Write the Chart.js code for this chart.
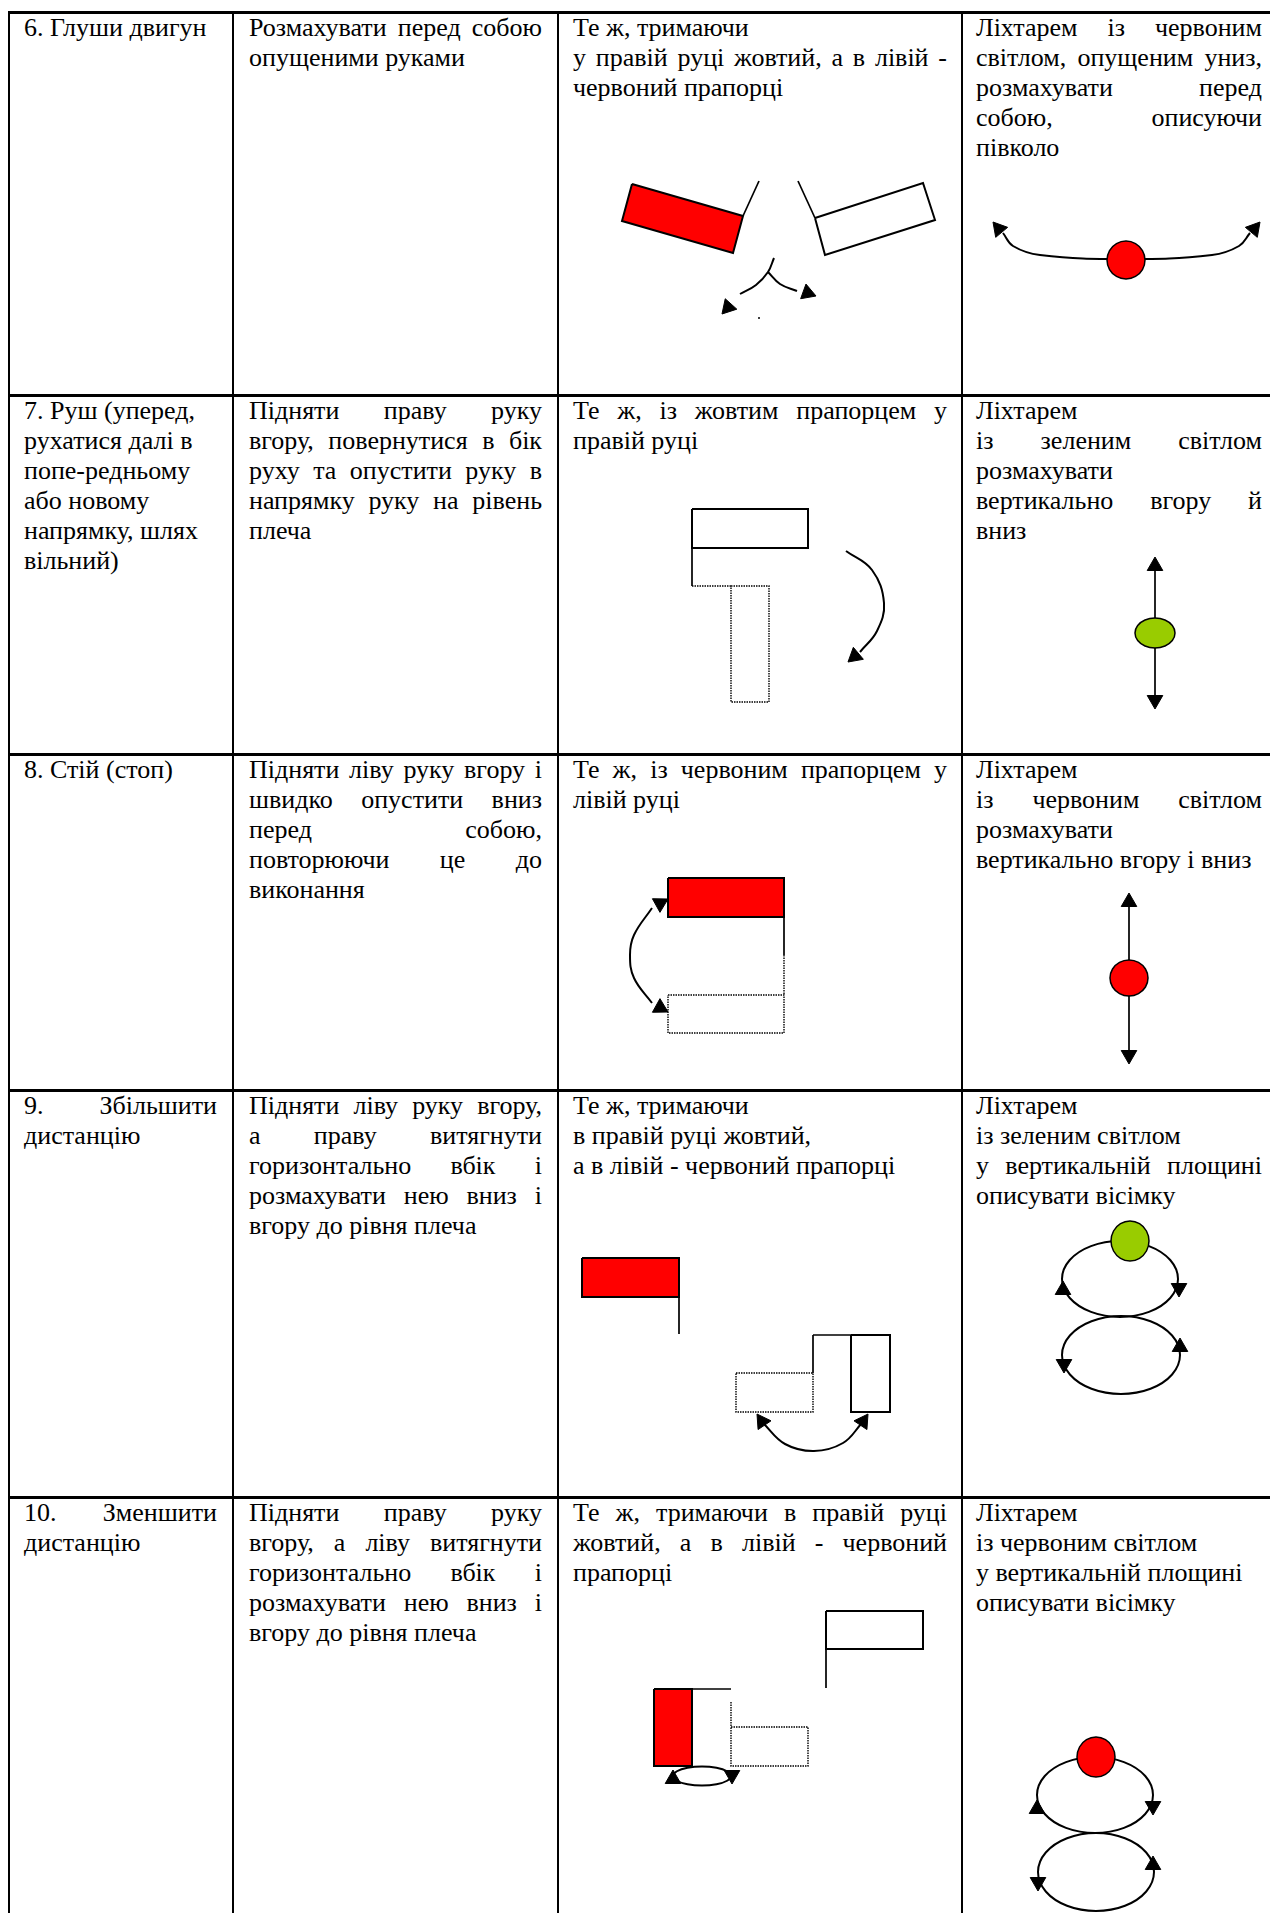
<!DOCTYPE html>
<html lang="uk">
<head>
<meta charset="utf-8">
<title>Сигнали регулювальника</title>
<script src="https://cdn.jsdelivr.net/npm/chart.js@4.4.1/dist/chart.umd.min.js"></script>
<style>
  html, body { margin: 0; padding: 0; background: #fff; }
  #page {
    position: relative; width: 1270px; height: 1913px; overflow: hidden;
    font-family: 'Liberation Serif', 'Times New Roman', serif;
    font-size: 26px; line-height: 30px; color: #000;
  }
  .rule { position: absolute; background: #000; }
  .cell { position: absolute; }
  .cell div { white-space: nowrap; }
  .cell div.j { white-space: normal; text-align: justify; text-align-last: justify; }
  #sketch { position: absolute; left: 0; top: 0; }
</style>
</head>
<body>
<div id="page"><canvas id="sketch" width="1270" height="1913"></canvas></div>
<script>
// table layout
const rowTops = [12, 395, 754, 1090, 1497];
const colLines = [9, 233, 558, 962];
const colText = [[24, 193], [249, 293], [573, 374], [976, 286]];

// "~" marks a line that is stretched to the full cell width
const signalText = [
  ['6. Глуши двигун'],
  ['7. Руш (уперед,', 'рухатися далі в', 'попе-редньому', 'або новому', 'напрямку, шлях', 'вільний)'],
  ['8. Стій (стоп)'],
  ['~9. Збільшити', 'дистанцію'],
  ['~10. Зменшити', 'дистанцію']
];
const armText = [
  ['~Розмахувати перед собою', 'опущеними руками'],
  ['~Підняти праву руку', '~вгору, повернутися в бік', '~руху та опустити руку в', '~напрямку руку на рівень', 'плеча'],
  ['~Підняти ліву руку вгору і', '~швидко опустити вниз', '~перед собою,', '~повторюючи це до', 'виконання'],
  ['~Підняти ліву руку вгору,', '~а праву витягнути', '~горизонтально вбік і', '~розмахувати нею вниз і', 'вгору до рівня плеча'],
  ['~Підняти праву руку', '~вгору, а ліву витягнути', '~горизонтально вбік і', '~розмахувати нею вниз і', 'вгору до рівня плеча']
];
const flagText = [
  ['Те ж, тримаючи', '~у правій руці жовтий, а в лівій -', 'червоний прапорці'],
  ['~Те ж, із жовтим прапорцем у', 'правій руці'],
  ['~Те ж, із червоним прапорцем у', 'лівій руці'],
  ['Те ж, тримаючи', 'в правій руці жовтий,', 'а в лівій - червоний прапорці'],
  ['~Те ж, тримаючи в правій руці', '~жовтий, а в лівій - червоний', 'прапорці']
];
const lanternText = [
  ['~Ліхтарем із червоним', '~світлом, опущеним униз,', '~розмахувати перед', '~собою, описуючи', 'півколо'],
  ['Ліхтарем', '~із зеленим світлом', 'розмахувати', '~вертикально вгору й', 'вниз'],
  ['Ліхтарем', '~із червоним світлом', 'розмахувати', 'вертикально вгору і вниз'],
  ['Ліхтарем', 'із зеленим світлом', '~у вертикальній площині', 'описувати вісімку'],
  ['Ліхтарем', 'із червоним світлом', 'у вертикальній площині', 'описувати вісімку']
];

// drawing marks, in page coordinates
const redFlags = [
  [[632, 184], [743, 216], [733, 253], [622, 221]],
  [[668, 878], [784, 878], [784, 917], [668, 917]],
  [[582, 1258], [679, 1258], [679, 1297], [582, 1297]],
  [[654, 1689], [692, 1689], [692, 1766], [654, 1766]]
];
const whiteFlags = [
  [[815, 218], [923, 183], [935, 220], [825, 255]],
  [[692, 509], [808, 509], [808, 548], [692, 548]],
  [[851, 1335], [890, 1335], [890, 1412], [851, 1412]],
  [[826, 1611], [923, 1611], [923, 1649], [826, 1649]]
];
const dottedFlags = [
  [[731, 586], [769, 586], [769, 702], [731, 702]],
  [[668, 995], [784, 995], [784, 1033], [668, 1033]],
  [[736, 1373], [813, 1373], [813, 1412], [736, 1412]],
  [[731, 1727], [808, 1727], [808, 1766], [731, 1766]]
];
const poles = [
  [[743, 216], [759, 181]], [[815, 218], [798, 181]],
  [[692, 548], [692, 586]], [[784, 917], [784, 955]],
  [[679, 1297], [679, 1334]], [[813, 1335], [851, 1335]], [[813, 1335], [813, 1373]],
  [[826, 1649], [826, 1688]], [[692, 1689], [731, 1689]],
  [[1155, 565], [1155, 701]], [[1129, 901], [1129, 1056]]
];
const dottedPoles = [
  [[692, 586], [731, 586]], [[784, 955], [784, 995]], [[731, 1702], [731, 1727]]
];
const swings = [
  [[774, 258], [768, 272], [756, 285], [740, 294]],
  [[768, 272], [780, 284], [797, 291]],
  [[1003, 233], [1013, 246], [1040, 255], [1126, 259], [1212, 255], [1239, 246], [1250, 233]],
  [[846, 551], [872, 570], [884, 603], [877, 631], [860, 652]],
  [[652, 908], [634, 935], [630, 955], [634, 978], [652, 1003]],
  [[763, 1423], [785, 1444], [814, 1451], [843, 1443], [862, 1423]]
];
// arrow tip x, y and heading in degrees (0 = up, clockwise)
const arrowTips = [
  [722, 314, -138], [816, 296, 110],
  [993, 222, -40], [1260, 222, 40],
  [848, 662, -130],
  [1155, 557, 0], [1155, 709, 180],
  [668, 899, 61], [668, 1012, 119],
  [1129, 893, 0], [1129, 1064, 180],
  [757, 1414, -34], [868, 1414, 34],
  [1063, 1281, 0], [1179, 1297, 180], [1064, 1373, 180], [1180, 1338, 0],
  [673, 1770, 0], [732, 1784, 180],
  [1037, 1800, 0], [1153, 1815, 180], [1038, 1891, 180], [1153, 1856, 0]
];
// loops: centre x, y, radius x, y
const loops = [
  [1120, 1279, 58, 38], [1121, 1355, 59, 39],
  [1095, 1795, 58, 38], [1096, 1872, 58, 39],
  [702, 1776, 29, 9.5]
];
const lights = [
  [1126, 260, 19, 19, '#ff0000'],
  [1155, 633, 20, 15, '#99cc00'],
  [1129, 978, 19, 18, '#ff0000'],
  [1130, 1241, 19, 20, '#99cc00'],
  [1096, 1757, 19, 20, '#ff0000']
];

// --- table ---
const page = document.getElementById('page');
function rule(l, t, w, h) {
  const d = document.createElement('div');
  d.className = 'rule';
  d.style.cssText = `left:${l}px;top:${t}px;width:${w}px;height:${h}px`;
  page.insertBefore(d, page.firstChild);
}
colLines.forEach(x => rule(x - 1, rowTops[0] - 1, 2, 1913));
rowTops.forEach(y => rule(colLines[0] - 1, y - 1, 1270, 3));

[signalText, armText, flagText, lanternText].forEach((col, c) => {
  col.forEach((lines, r) => {
    const cell = document.createElement('div');
    cell.className = 'cell';
    cell.style.left = colText[c][0] + 'px';
    cell.style.width = colText[c][1] + 'px';
    cell.style.top = (rowTops[r] + 1) + 'px';
    lines.forEach(s => {
      const line = document.createElement('div');
      if (s[0] === '~') { line.className = 'j'; s = s.slice(1); }
      line.textContent = s;
      cell.appendChild(line);
    });
    page.insertBefore(cell, document.getElementById('sketch'));
  });
});

// --- sketches ---
const pt = ([x, y]) => ({ x, y });
const hidden = 'rgba(0,0,0,0)';
const datasets = [];

function shape(pts, opts) {
  datasets.push(Object.assign({
    data: pts.map(pt), showLine: true, tension: 0, pointRadius: 0,
    borderColor: '#000', borderWidth: 1.5, fill: false, clip: false
  }, opts));
}
const closed = pts => pts.concat([pts[0]]);

redFlags.forEach(p => shape(closed(p), { backgroundColor: '#ff0000', fill: 'shape', borderWidth: 2 }));
whiteFlags.forEach(p => shape(closed(p), { borderWidth: 2 }));
dottedFlags.forEach(p => shape(closed(p), { borderWidth: 1.4, borderDash: [1.5, 1] }));
poles.forEach(p => shape(p, { borderWidth: 1.7 }));
dottedPoles.forEach(p => shape(p, { borderWidth: 1.4, borderDash: [1.5, 1] }));
swings.forEach(p => shape(p, { tension: 0.4, borderWidth: 2 }));

// ring through 12 points, wrapped so the spline closes smoothly
const UNIT = [[1, 0], [0.866, 0.5], [0.5, 0.866], [0, 1], [-0.5, 0.866], [-0.866, 0.5],
  [-1, 0], [-0.866, -0.5], [-0.5, -0.866], [0, -1], [0.5, -0.866], [0.866, -0.5]];
function ring(cx, cy, rx, ry, opts) {
  const p = UNIT.map(([u, v]) => [cx + u * rx, cy + v * ry]);
  const pts = [p[11]].concat(p, [p[0], p[1]]);
  const last = pts.length - 1;
  shape(pts, Object.assign({
    tension: 0.35, borderWidth: 2,
    segment: { borderColor: ctx => (ctx.p0DataIndex === 0 || ctx.p1DataIndex === last) ? hidden : '#000' }
  }, opts));
}
loops.forEach(([cx, cy, rx, ry]) => ring(cx, cy, rx, ry, {}));
lights.forEach(([cx, cy, rx, ry, col]) => ring(cx, cy, rx, ry, { backgroundColor: col, fill: 'shape', borderWidth: 1.5, order: -2 }));

const headR = 9;
datasets.push({
  data: arrowTips.map(([x, y, a]) => {
    const r = a * Math.PI / 180;
    return { x: x - Math.sin(r) * headR, y: y + Math.cos(r) * headR };
  }),
  pointStyle: 'triangle', pointRadius: headR, pointHoverRadius: headR,
  pointRotation: arrowTips.map(a => a[2]),
  backgroundColor: '#000', borderColor: '#000', borderWidth: 1, showLine: false, clip: false, order: -1
});
datasets.push({
  data: [{ x: 759, y: 318 }], pointRadius: 1, backgroundColor: '#000', borderWidth: 0, clip: false
});

new Chart(document.getElementById('sketch'), {
  type: 'scatter',
  data: { datasets },
  options: {
    responsive: false, animation: false, devicePixelRatio: 1, events: [],
    layout: { padding: 0, autoPadding: false },
    plugins: { legend: { display: false }, tooltip: { enabled: false } },
    scales: {
      x: { type: 'linear', min: 0, max: 1270, display: false },
      y: { type: 'linear', min: 0, max: 1913, reverse: true, display: false }
    },
    elements: { line: { borderJoinStyle: 'miter', borderCapStyle: 'butt' } }
  }
});
</script>
</body>
</html>
